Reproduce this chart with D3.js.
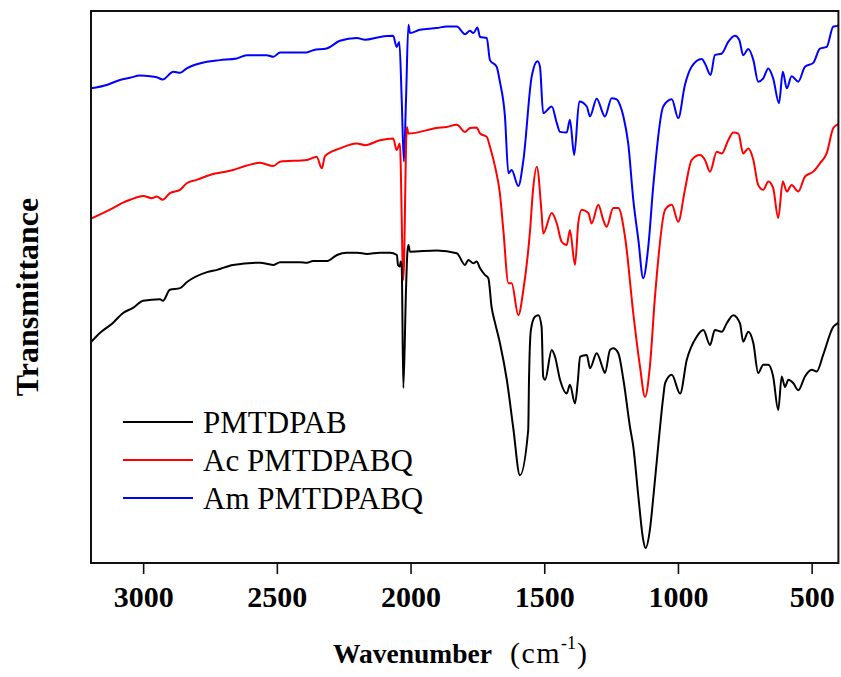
<!DOCTYPE html>
<html>
<head>
<meta charset="utf-8">
<script src="https://cdn.jsdelivr.net/npm/d3@7"></script>
<style>
  html, body { margin: 0; padding: 0; background: #fff; }
  svg { display: block; }
</style>
</head>
<body>
<svg id="chart" width="841" height="677"></svg>
<script>
// ---- Data: [wavenumber (cm^-1), transmittance (a.u., offset)] ----
const pmtdpab = [[3195,40.0],[3161,41.7],[3113,43.5],[3075,45.3],[3038,46.2],[3000,47.5],[2937,47.8],[2926,47.5],[2900,49.5],[2862,49.8],[2836,50.9],[2761,52.7],[2724,53.1],[2664,54.0],[2563,54.4],[2514,54.0],[2488,54.5],[2413,54.5],[2387,54.4],[2365,54.7],[2312,54.7],[2275,55.8],[2238,56.2],[2200,56.2],[2163,56.0],[2114,56.2],[2077,56.2],[2051,55.8],[2047,54.0],[2040,53.7],[2037,54.6],[2033,53.7],[2027,31.7],[2017,49.5],[2012,56.2],[2008,57.6],[2002,56.4],[1902,56.6],[1827,56.1],[1796,54.0],[1784,54.9],[1765,54.3],[1753,54.6],[1740,53.4],[1722,52.2],[1709,51.6],[1697,46.4],[1684,43.5],[1666,39.9],[1640,33.2],[1616,24.5],[1591,15.9],[1560,24.1],[1557,33.2],[1550,42.2],[1535,44.6],[1522,44.9],[1510,42.8],[1504,33.8],[1497,33.2],[1472,38.6],[1460,37.4],[1441,33.2],[1416,30.7],[1404,32.3],[1385,28.9],[1374,33.2],[1366,37.4],[1341,37.7],[1329,35.3],[1304,38.0],[1279,35.0],[1273,34.4],[1254,38.6],[1242,38.9],[1223,38.0],[1204,33.2],[1179,24.5],[1167,21.1],[1148,12.0],[1130,4.2],[1121,2.7],[1105,6.0],[1092,12.0],[1074,21.1],[1055,30.1],[1048,32.6],[1023,34.1],[992,30.7],[967,36.8],[930,41.0],[905,42.2],[880,39.5],[862,42.2],[836,41.9],[818,43.4],[793,44.9],[768,43.4],[756,40.1],[737,41.9],[718,39.8],[700,34.4],[681,35.9],[662,35.9],[644,33.8],[625,27.7],[612,33.8],[600,31.9],[587,33.2],[569,32.6],[550,31.3],[525,33.8],[500,35.0],[481,34.7],[457,37.7],[419,42.8],[404,43.4],[400,43.6]];

const acPmtdpabq = [[3195,62.4],[3113,64.3],[3075,65.3],[3049,65.8],[3000,66.5],[2968,66.1],[2949,66.4],[2927,65.8],[2900,67.0],[2862,67.6],[2837,68.8],[2800,69.4],[2750,70.3],[2663,71.2],[2613,72.0],[2563,72.5],[2513,71.9],[2488,72.7],[2388,73.0],[2351,73.6],[2332,71.5],[2320,73.7],[2264,75.1],[2201,76.0],[2170,75.7],[2114,76.6],[2065,76.9],[2052,74.8],[2040,76.0],[2027,51.3],[2014,79.0],[2008,77.8],[1902,78.8],[1865,79.0],[1827,79.4],[1796,78.1],[1778,78.8],[1753,78.9],[1740,77.8],[1715,77.2],[1703,75.4],[1684,71.8],[1666,67.0],[1653,60.3],[1634,50.7],[1622,50.7],[1597,44.9],[1578,49.5],[1553,60.3],[1542,67.6],[1528,71.8],[1510,63.4],[1504,59.7],[1472,63.4],[1453,61.5],[1435,58.2],[1416,57.6],[1404,60.3],[1385,54.0],[1373,61.5],[1360,64.0],[1335,63.4],[1323,61.5],[1298,64.9],[1279,62.1],[1267,60.9],[1242,64.3],[1223,64.3],[1198,59.1],[1167,45.2],[1142,35.6],[1123,30.1],[1105,35.6],[1086,48.2],[1048,64.0],[1023,64.9],[999,61.8],[974,67.6],[949,73.0],[918,73.9],[899,73.0],[880,70.9],[855,74.5],[836,74.2],[812,76.6],[793,78.0],[774,77.8],[756,74.2],[737,75.1],[718,73.0],[700,68.5],[681,67.6],[662,69.1],[644,67.9],[625,62.5],[608,69.1],[593,67.3],[575,68.5],[550,67.3],[525,70.0],[494,70.9],[469,72.4],[444,74.2],[419,78.8],[404,79.4],[400,79.5]];

const amPmtdpabq = [[3195,86.0],[3136,86.6],[3087,87.5],[3049,87.9],[3012,88.3],[2974,88.2],[2949,88.0],[2927,87.6],[2887,89.0],[2862,88.8],[2837,89.6],[2762,90.8],[2713,91.1],[2650,91.4],[2613,92.0],[2538,92.0],[2513,91.7],[2488,92.5],[2388,92.5],[2364,92.9],[2314,93.2],[2264,94.6],[2201,95.1],[2170,94.8],[2114,95.3],[2065,95.5],[2052,93.5],[2042,94.4],[2033,83.9],[2025,72.7],[2017,83.9],[2008,97.5],[2002,96.0],[1965,96.6],[1902,96.9],[1865,97.2],[1827,97.2],[1796,95.8],[1778,96.4],[1765,96.0],[1750,97.0],[1740,95.3],[1715,95.1],[1703,91.1],[1678,89.9],[1666,87.2],[1647,80.9],[1634,70.6],[1622,71.2],[1597,68.3],[1578,73.0],[1547,88.1],[1525,90.9],[1516,89.9],[1504,81.5],[1472,82.7],[1453,79.7],[1441,78.1],[1416,78.0],[1404,80.3],[1388,73.9],[1369,83.6],[1341,82.7],[1329,80.9],[1304,84.1],[1273,80.9],[1248,84.2],[1229,84.0],[1217,83.0],[1204,80.9],[1186,76.0],[1167,65.8],[1148,58.5],[1130,51.6],[1111,57.3],[1092,68.5],[1055,82.7],[1023,84.0],[999,80.6],[974,86.6],[949,89.9],[911,91.3],[899,90.5],[878,88.4],[862,92.0],[836,92.3],[812,94.4],[787,95.5],[771,94.8],[756,92.0],[737,93.1],[718,91.1],[700,87.2],[681,87.8],[662,89.6],[644,87.8],[622,83.3],[608,89.0],[593,86.0],[575,88.2],[550,87.2],[525,89.9],[494,90.6],[469,93.2],[444,93.5],[419,97.2],[404,97.3],[400,97.4]];

const seriesNames = ["PMTDPAB", "Ac PMTDPABQ", "Am PMTDPABQ"];
const seriesColors = ["#000000", "#ff0000", "#0000ff"];
const xTicks = [3000, 2500, 2000, 1500, 1000, 500];
const xDomain = [3195, 400];
const yDomain = [0, 100];

(function () {
  // ---- Layout ----
  const svg = d3.select("#chart");
  const mLeft = 91, mRight = 838.4, mTop = 11, mBottom = 563;
  const serif = "'Liberation Serif','Times New Roman',Times,serif";

  const x = d3.scaleLinear().domain(xDomain).range([mLeft, mRight]);
  const y = d3.scaleLinear().domain(yDomain).range([mBottom, mTop]);

  const line = d3.line().x(d => x(d[0])).y(d => y(d[1])).curve(d3.curveMonotoneX);
  const allSeries = [pmtdpab, acPmtdpabq, amPmtdpabq];
  const order = [2, 1, 0];
  svg.append("g").selectAll("path")
    .data(order)
    .join("path")
    .attr("d", i => line(allSeries[i]))
    .attr("fill", "none")
    .attr("stroke", i => seriesColors[i])
    .attr("stroke-width", 2)
    .attr("stroke-linejoin", "round");

  // Frame
  svg.append("rect")
    .attr("x", mLeft).attr("y", mTop)
    .attr("width", mRight - mLeft).attr("height", mBottom - mTop)
    .attr("fill", "none").attr("stroke", "#111").attr("stroke-width", 2);

  // X axis
  const xAxis = d3.axisBottom(x).tickValues(xTicks).tickSize(11).tickPadding(12).tickFormat(d3.format("d"));
  const gx = svg.append("g").attr("transform", `translate(0,${mBottom})`).call(xAxis);
  gx.select(".domain").remove();
  gx.selectAll(".tick line").attr("stroke", "#111").attr("stroke-width", 1.6);
  gx.selectAll(".tick text")
    .attr("fill", "#000")
    .style("font-family", serif)
    .style("font-weight", "bold")
    .style("font-size", "30px");

  // X title
  const xt = svg.append("text")
    .attr("x", 333).attr("y", 663)
    .attr("text-anchor", "start")
    .style("font-family", serif)
    .style("font-size", "27.5px")
    .attr("fill", "#000");
  xt.append("tspan").style("font-weight", "bold").text("Wavenumber");
  xt.append("tspan").style("font-size", "30px").style("letter-spacing", "1.5px").text("\u00a0 (cm");
  xt.append("tspan").style("font-size", "18px").attr("dy", -14).text("-1");
  xt.append("tspan").style("font-size", "30px").attr("dy", 14).attr("dx", 1).text(")");

  // Y title
  svg.append("text")
    .attr("transform", "translate(38,297) rotate(-90)")
    .attr("text-anchor", "middle")
    .style("font-family", serif)
    .style("font-weight", "bold")
    .style("font-size", "32px")
    .attr("fill", "#000")
    .text("Transmittance");

  // Legend
  const legY = [422, 460, 498];
  const lg = svg.append("g");
  seriesNames.forEach((name, i) => {
    lg.append("line")
      .attr("x1", 123).attr("x2", 193)
      .attr("y1", legY[i]).attr("y2", legY[i])
      .attr("stroke", seriesColors[i]).attr("stroke-width", 2);
    lg.append("text")
      .attr("x", 203).attr("y", legY[i] + 11)
      .style("font-family", serif)
      .style("font-size", "31px")
      .attr("fill", "#000")
      .text(name);
  });
})();
</script>
</body>
</html>
